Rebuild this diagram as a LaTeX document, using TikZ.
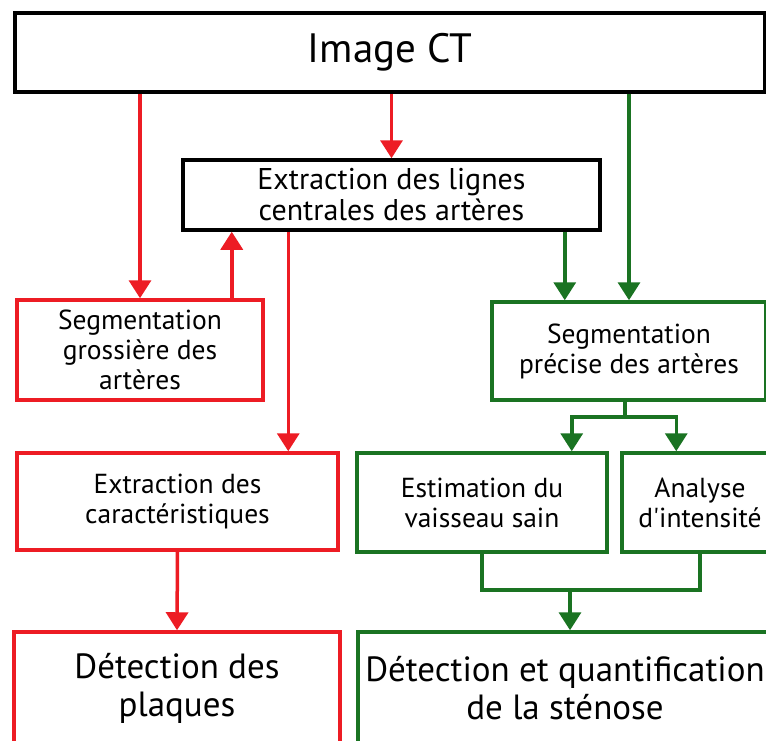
\documentclass[tikz,border=0pt]{standalone}
\usepackage{fontspec}
\setmainfont{PT Sans}
\usetikzlibrary{arrows.meta}
\definecolor{rouge}{RGB}{237,28,36}
\definecolor{vert}{RGB}{26,115,34}
\newcommand{\fsn}{\fontsize{27.5}{30}\selectfont}
\newcommand{\fsl}{\fontsize{30}{31}\selectfont}
\newcommand{\fsg}{\fontsize{35}{38}\selectfont}
\tikzset{
  boite/.style={draw, rectangle, line width=3.5pt, align=center, inner sep=0pt},
  brouge/.style={boite, draw=rouge},
  bvert/.style={boite, draw=vert},
  frouge/.style={draw=rouge, line width=3.5pt, -{Triangle[width=22pt,length=18pt]}},
  fvert/.style={draw=vert, line width=3.5pt, -{Triangle[width=22pt,length=18pt]}},
  lvert/.style={draw=vert, line width=3.5pt}
}

\begin{document}
\begin{tikzpicture}[x=1pt,y=-1pt]
   \clip (0,0) rectangle (766,740);
   \fill[white] (0,0) rectangle (766,740);
   \node[boite, line width=4.5pt, minimum width=750pt, minimum height=79pt, font=\fontsize{41}{44}\selectfont]
        (ct)  at (390,  52.5) {Image CT};
   \node[boite, minimum width=417pt, minimum height=70pt, font=\fsl]
        (lig) at (391.5,195) {Extraction des lignes\\centrales des art\`eres};
   \node[brouge, minimum width=246pt, minimum height=100pt, font=\fsn]
        (grg) at (140,  350) {Segmentation\\grossi\`ere des\\art\`eres};
   \node[bvert,  minimum width=274pt, minimum height=98pt, font=\fsn]
        (prc) at (629,  351) {Segmentation\\pr\'ecise des art\`eres};
   \node[brouge, minimum width=321pt, minimum height=97pt, font=\fsn]
        (car) at (177.5,501.5) {Extraction des\\caract\'eristiques};
   \node[bvert,  minimum width=250pt, minimum height=99pt, font=\fsn]
        (est) at (482,  502.5) {Estimation du\\vaisseau sain};
   \node[bvert,  minimum width=156pt, minimum height=99pt, font=\fsn]
        (ana) at (700,  502.5) {Analyse\\d\textquotesingle intensit\'e};
   \node[brouge, minimum width=326pt, minimum height=113pt, font=\fsg]
        (pla) at (177,  688.5) {D\'etection des\\plaques};
   \node[bvert,  minimum width=414pt, minimum height=113pt, font=\fsg]
        (ste) at (565,  688.5) {D\'etection et quantification\\de la st\'enose};
   \draw[frouge] (ct.south -| grg.north) -- (grg.north);
   \draw[frouge] (ct.south -| lig.north) -- (lig.north);
   \draw[fvert]  (ct.south -| prc.north) -- (prc.north);
   \draw[frouge] ([xshift=-33pt]grg.north east) -- ([xshift=-33pt]grg.north east |- lig.south);
   \draw[frouge] ([xshift=107pt]lig.south west) -- ([xshift=107pt]lig.south west |- car.north);
   \draw[fvert]  ([xshift=-37pt]lig.south east) -- ([xshift=-37pt]lig.south east |- prc.north);
   \coordinate (sp) at ([xshift=-4pt,yshift=-15pt]prc.south);
   \draw[lvert]  ([xshift=-4pt]prc.south) -- (sp);
   \draw[fvert]  (sp) -| ([xshift=-37pt]est.north east);
   \draw[fvert]  (sp) -| ([xshift=56pt]ana.north west);
   \coordinate (mg) at (570,590);
   \draw[lvert]  (est.south) |- (mg) -| (ana.south);
   \draw[fvert]  (mg) -- (mg |- ste.north);
   \draw[frouge] (car.south) -- (pla.north);
\end{tikzpicture}
\end{document}
